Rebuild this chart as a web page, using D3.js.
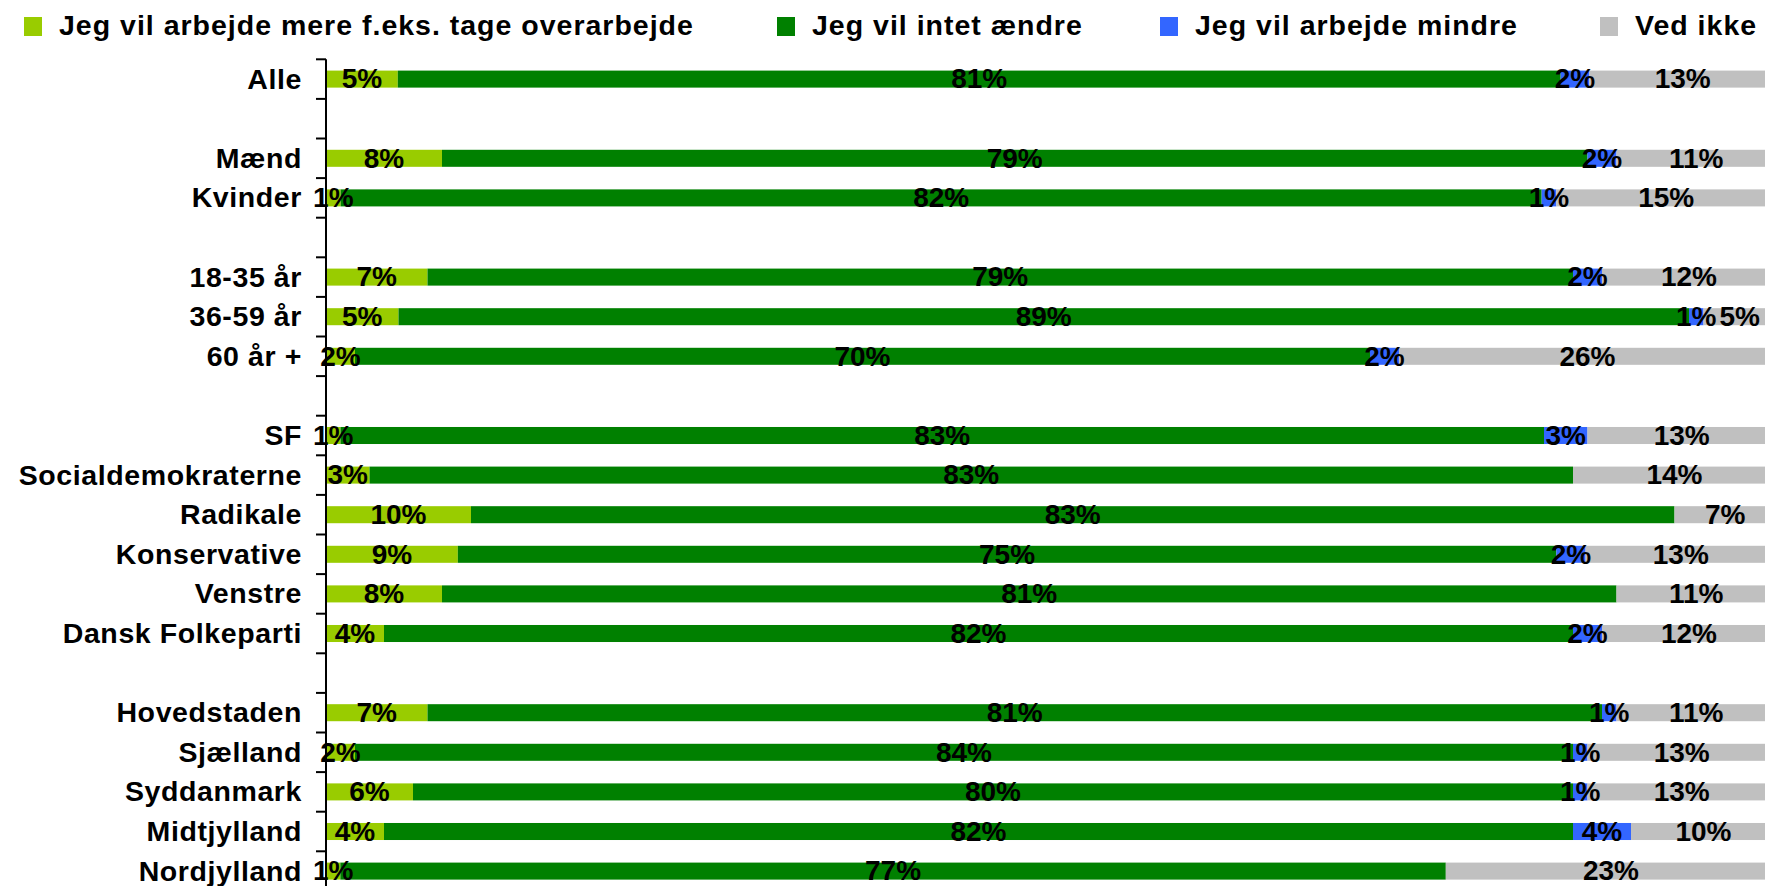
<!DOCTYPE html>
<html>
<head>
<meta charset="utf-8">
<script src="https://cdn.jsdelivr.net/npm/d3@7"></script>
<style>
body { margin: 0; background: #fff; overflow: hidden; }
text { font-family: "Liberation Sans", Arial, sans-serif; font-weight: bold; fill: #000; }
</style>
</head>
<body>
<svg width="1765" height="886"></svg>
<script>
// rows, null = empty slot between groups
var categories = ["Alle", null, "Mænd", "Kvinder", null, "18-35 år", "36-59 år", "60 år +", null,
  "SF", "Socialdemokraterne", "Radikale", "Konservative", "Venstre", "Dansk Folkeparti", null,
  "Hovedstaden", "Sjælland", "Syddanmark", "Midtjylland", "Nordjylland"];

var seriesNames = ["Jeg vil arbejde mere f.eks. tage overarbejde", "Jeg vil intet ændre", "Jeg vil arbejde mindre", "Ved ikke"];
var colors = ["#99CC00", "#008000", "#3366FF", "#C0C0C0"];

var mere   = [5, null, 8, 1, null, 7, 5, 2, null, 1, 3, 10, 9, 8, 4, null, 7, 2, 6, 4, 1];
var intet  = [81, null, 79, 82, null, 79, 89, 70, null, 83, 83, 83, 75, 81, 82, null, 81, 84, 80, 82, 77];
var mindre = [2, null, 2, 1, null, 2, 1, 2, null, 3, 0, 0, 2, 0, 2, null, 1, 1, 1, 4, 0];
var vedIkke = [13, null, 11, 15, null, 12, 5, 26, null, 13, 14, 7, 13, 11, 12, null, 11, 13, 13, 10, 23];

var series = [mere, intet, mindre, vedIkke];

const svg = d3.select("svg");

var axisX = 326;
var y = d3.scaleBand()
  .domain(d3.range(categories.length))
  .range([59.3, 59.3 + 39.6 * categories.length])
  .paddingInner(0.57)
  .paddingOuter(0.285);
// the 100% end sits a little past the right edge of the picture
var x = d3.scaleLinear().domain([0, 1]).range([axisX, 1776]);

var rows = [];
categories.forEach(function(c, i) {
  if (c === null) return;
  var total = d3.sum(series, function(s) { return s[i]; });
  var acc = 0;
  series.forEach(function(s, k) {
    rows.push({ i: i, k: k, v: s[i], x0: acc / total, x1: (acc + s[i]) / total });
    acc += s[i];
  });
});

svg.append("g").selectAll("rect")
  .data(rows.filter(function(d) { return d.v > 0; }))
  .join("rect")
  .attr("x", function(d) { return x(d.x0); })
  .attr("width", function(d) { return x(d.x1) - x(d.x0); })
  .attr("y", function(d) { return y(d.i); })
  .attr("height", y.bandwidth())
  .attr("fill", function(d) { return colors[d.k]; });

svg.append("g").selectAll("text")
  .data(rows.filter(function(d) { return d.v > 0; }))
  .join("text")
  .attr("x", function(d) { return (x(d.x0) + x(d.x1)) / 2; })
  .attr("y", function(d) { return y(d.i) + y.bandwidth() / 2; })
  .attr("dy", "0.33em")
  .attr("text-anchor", "middle")
  .style("font-size", "28px")
  .text(function(d) { return d.v + "%"; });

// category axis
var step = y.step();
var axisTop = y(0) - y.paddingInner() * step / 2;
var g = svg.append("g");
g.append("line")
  .attr("x1", axisX).attr("x2", axisX)
  .attr("y1", axisTop).attr("y2", 886)
  .attr("stroke", "#000").attr("stroke-width", 2);
g.selectAll(".tick")
  .data(d3.range(categories.length + 1))
  .join("line")
  .attr("class", "tick")
  .attr("x1", axisX - 10).attr("x2", axisX)
  .attr("y1", function(d) { return axisTop + d * step; })
  .attr("y2", function(d) { return axisTop + d * step; })
  .attr("stroke", "#000").attr("stroke-width", 2);
g.selectAll("text")
  .data(categories.map(function(c, i) { return { c: c, i: i }; }).filter(function(d) { return d.c !== null; }))
  .join("text")
  .attr("x", 302)
  .attr("y", function(d) { return y(d.i) + y.bandwidth() / 2; })
  .attr("dy", "0.33em")
  .attr("text-anchor", "end")
  .style("font-size", "28.5px")
  .style("letter-spacing", "0.6px")
  .text(function(d) { return d.c; });

// legend
var legendX = [24, 777, 1160, 1600];
var legend = svg.append("g").selectAll("g")
  .data(seriesNames)
  .join("g")
  .attr("transform", function(d, i) { return "translate(" + legendX[i] + ",0)"; });
legend.append("rect")
  .attr("x", 0).attr("y", 17)
  .attr("width", 18).attr("height", 19)
  .attr("fill", function(d, i) { return colors[i]; });
legend.append("text")
  .attr("x", 35).attr("y", 35)
  .style("font-size", "28.5px")
  .style("letter-spacing", "1px")
  .text(function(d) { return d; });
</script>
</body>
</html>
